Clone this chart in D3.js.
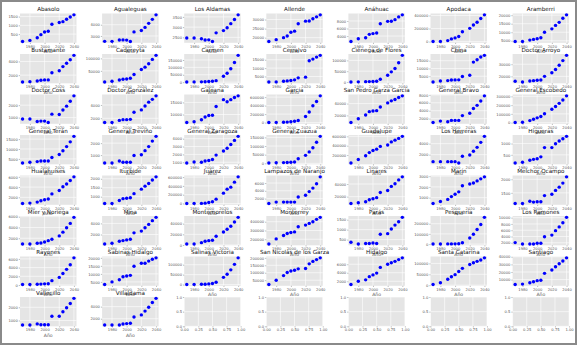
<!DOCTYPE html>
<html>
<head>
<meta charset="utf-8">
<script src="https://cdn.jsdelivr.net/npm/d3@7"></script>
<style>
  body { margin: 0; background: #fff; }
  text { font-family: "DejaVu Sans", sans-serif; }
</style>
</head>
<body>
<div id="chart"></div>
<script>
// Years on the x axis (same for every municipality)
const years = [1970, 1980, 1990, 1995, 2000, 2005, 2010, 2020, 2025, 2030, 2035, 2040];

// Municipalities, in panel order
const municipios = [
  "Abasolo", "Agualeguas", "Los Aldamas", "Allende", "Anáhuac", "Apodaca", "Aramberri",
  "Bustamante", "Cadereyta", "Carmen", "Cerralvo", "Ciénega de Flores", "China", "Doctor Arroyo",
  "Doctor Coss", "Doctor González", "Galeana", "García", "San Pedro Garza García", "General Bravo", "General Escobedo",
  "General Terán", "General Treviño", "General Zaragoza", "General Zuazua", "Guadalupe", "Los Herreras", "Higueras",
  "Hualahuises", "Iturbide", "Juárez", "Lampazos de Naranjo", "Linares", "Marín", "Melchor Ocampo",
  "Mier y Noriega", "Mina", "Montemorelos", "Monterrey", "Parás", "Pesquería", "Los Ramones",
  "Rayones", "Sabinas Hidalgo", "Salinas Victoria", "San Nicolás de los Garza", "Hidalgo", "Santa Catarina", "Santiago",
  "Vallecillo", "Villaldama"
];

// Values per municipality, aligned with `years`
const poblacion = [
  [80, 140, 290, 470, 620, 660, 1060, 1160, 1210, 1350, 1480, 1600],
  [2520, 2520, 2640, 2650, 2630, 2510, 3360, 3480, 3760, 4120, 4480, 4880],
  [2470, 2470, 2430, 2370, 2380, 2300, 2720, 2830, 2970, 3170, 3370, 3600],
  [17900, 18900, 20000, 20900, 23000, 23600, 27700, 29100, 29200, 30400, 31500, 32600],
  [2550, 3270, 3550, 4450, 4640, 4820, 7270, 7910, 7950, 8360, 9090, 9640],
  [2000, 3000, 15600, 41500, 57000, 78000, 150600, 202600, 254500, 296000, 353000, 410000],
  [4600, 4600, 5400, 5800, 6200, 6800, 10000, 12000, 14000, 15800, 18200, 20200],
  [1000, 1050, 1150, 1250, 1300, 1300, 2350, 2650, 3250, 3750, 4250, 4900],
  [5400, 8100, 13500, 16200, 17600, 20300, 35100, 55400, 64900, 78400, 95900, 112200],
  [1200, 1500, 2000, 3000, 4500, 6000, 10000, 39500, 60500, 90700, 132600, 181400],
  [1700, 1750, 2150, 2350, 2550, 2960, 4180, 4590, 14400, 15400, 16600, 17650],
  [0, 500, 1560, 1800, 2000, 3120, 12500, 31250, 46900, 62500, 89000, 123400],
  [1300, 1960, 2180, 2610, 2620, 2650, 4780, 5650, 14100, 15650, 17400, 18460],
  [15950, 15400, 16200, 16500, 16760, 17030, 20000, 22970, 25670, 29180, 32970, 37300],
  [890, 890, 690, 720, 720, 610, 1280, 1250, 1610, 1920, 2310, 2750],
  [1370, 1370, 1680, 1790, 1790, 1840, 2900, 3260, 3840, 4420, 4840, 5370],
  [6710, 7000, 7860, 9000, 9570, 9710, 13290, 16140, 15290, 16140, 17000, 17720],
  [3000, 5000, 8000, 12000, 20000, 30000, 50000, 145000, 250000, 395000, 495000, 630000],
  [8000, 14300, 20600, 26300, 27400, 28000, 34300, 41100, 44600, 46800, 50300, 53100],
  [1030, 1380, 1210, 1550, 1550, 1550, 2760, 3360, 4570, 5350, 6470, 7760],
  [2000, 5000, 23500, 39200, 54900, 70600, 102000, 153000, 184000, 220000, 259000, 306000],
  [2940, 3280, 3620, 3970, 3970, 3970, 5690, 7240, 9140, 11200, 13600, 16400],
  [340, 340, 510, 400, 400, 400, 970, 1030, 1370, 1710, 2170, 2570],
  [910, 1040, 1000, 1170, 1220, 1350, 1910, 2440, 2780, 3260, 3780, 4300],
  [2000, 3000, 4000, 5000, 6000, 8000, 26000, 46000, 66000, 90000, 122000, 156000],
  [30000, 103700, 185000, 252000, 296000, 326000, 385000, 415000, 481000, 518500, 555500, 600000],
  [730, 730, 730, 730, 730, 490, 1700, 1940, 2610, 3330, 4240, 5330],
  [140, 170, 260, 300, 330, 410, 820, 820, 990, 1110, 1210, 1320],
  [800, 870, 1070, 1330, 1530, 1670, 2670, 3330, 4070, 4600, 5270, 6000],
  [620, 620, 790, 890, 910, 940, 1170, 1420, 1590, 1740, 1930, 2110],
  [0, 1000, 2000, 7600, 22700, 37900, 98500, 235000, 326000, 371000, 485000, 606000],
  [750, 1100, 1100, 1100, 1100, 1100, 2410, 2850, 3800, 4700, 5830, 7590],
  [9200, 10270, 11900, 15100, 16760, 18380, 26500, 29700, 36200, 40500, 46500, 51350],
  [460, 650, 840, 1100, 1320, 1540, 2110, 2270, 2370, 2560, 2750, 2940],
  [1110, 1110, 1190, 1160, 1175, 1175, 1400, 1450, 1590, 1710, 1860, 2090],
  [940, 940, 1060, 1130, 1310, 1560, 1810, 2440, 3130, 3940, 4750, 5880],
  [300, 420, 790, 910, 1030, 1150, 2300, 2610, 3210, 3820, 4490, 5090],
  [1880, 1880, 4380, 6880, 8130, 8750, 16250, 24380, 29380, 35000, 43130, 51880],
  [146000, 204000, 242000, 265000, 277000, 284000, 342000, 361500, 381000, 400000, 427000, 450000],
  [370, 280, 300, 300, 330, 300, 770, 800, 1030, 1230, 1400, 1620],
  [1000, 1200, 1500, 1800, 2200, 3000, 13300, 60000, 96700, 143000, 193000, 263000],
  [2070, 1630, 1630, 1630, 1850, 1850, 3910, 4460, 5870, 7070, 8370, 10110],
  [120, 120, 180, 200, 260, 300, 1000, 1750, 2650, 3600, 4650, 6250],
  [3400, 5000, 6360, 8180, 8640, 9090, 14770, 16590, 16590, 17950, 19090, 20000],
  [500, 800, 1700, 1700, 3450, 5170, 12000, 36200, 51700, 74000, 101700, 134500],
  [21400, 50000, 81000, 102000, 112000, 116700, 126000, 128600, 159500, 176000, 188000, 200000],
  [1250, 2000, 2330, 3080, 3500, 3920, 5250, 6000, 6330, 6670, 7080, 7500],
  [3200, 11300, 27400, 38700, 48400, 62900, 77400, 95200, 103200, 109700, 116100, 125800],
  [3640, 4100, 5900, 7270, 8640, 9090, 18200, 22700, 26800, 30900, 34500, 38600],
  [660, 660, 740, 680, 680, 680, 1320, 1320, 1660, 1970, 2290, 2680],
  [970, 970, 970, 1140, 1200, 1260, 2290, 2630, 3260, 3890, 4690, 5370]
];

// Tick labels
const xTicks = [1980, 2000, 2020, 2040];
const emptyXTicks = [0, 0.25, 0.5, 0.75, 1];
const emptyYTicks = [0, 0.5, 1];

// Figure layout (matplotlib-like grid of 8 rows x 7 columns)
const W = 577, H = 345;
const nCols = 7, nRows = 8;
const left0 = 20, colStep = 82.1, plotW = 56.5;
const top0 = 13.5, rowStep = 40.5, plotH = 29.3;

const svg = d3.select("#chart")
  .append("svg")
  .attr("width", W)
  .attr("height", H);

svg.append("rect")
  .attr("width", W)
  .attr("height", H)
  .attr("fill", "#fff");

const yFmt = d3.format("d");

for (let i = 0; i < nCols * nRows; i++) {
  const col = i % nCols, row = Math.floor(i / nCols);
  const g = svg.append("g")
    .attr("transform", `translate(${left0 + col * colStep},${top0 + row * rowStep})`);

  // grey panel
  g.append("rect")
    .attr("width", plotW)
    .attr("height", plotH)
    .attr("fill", "#e5e5e5");

  let x, y, xt, yt, xFmt, yF;
  const hasData = i < municipios.length;

  if (hasData) {
    const vals = poblacion[i];
    const [lo, hi] = d3.extent(vals);
    const pad = (hi - lo) * 0.05;
    x = d3.scaleLinear().domain([1966.5, 2043.5]).range([0, plotW]);
    y = d3.scaleLinear().domain([lo - pad, hi + pad]).range([plotH, 0]);
    xt = xTicks;
    yt = y.ticks(3);
    xFmt = d3.format("d");
    yF = yFmt;
  } else {
    x = d3.scaleLinear().domain([0, 1]).range([0, plotW]);
    y = d3.scaleLinear().domain([0, 1]).range([plotH, 0]);
    xt = emptyXTicks;
    yt = emptyYTicks;
    xFmt = d3.format(".2f");
    yF = d3.format(".1f");
  }

  // white grid
  g.selectAll(".gx").data(xt).join("line")
    .attr("x1", d => x(d)).attr("x2", d => x(d))
    .attr("y1", 0).attr("y2", plotH)
    .attr("stroke", "#fff").attr("stroke-width", 0.6);
  g.selectAll(".gy").data(yt).join("line")
    .attr("class", "gy")
    .attr("x1", 0).attr("x2", plotW)
    .attr("y1", d => y(d)).attr("y2", d => y(d))
    .attr("stroke", "#fff").attr("stroke-width", 0.6);

  // axes
  const ax = g.append("g")
    .attr("transform", `translate(0,${plotH})`)
    .call(d3.axisBottom(x).tickValues(xt).tickFormat(xFmt).tickSize(1.2).tickPadding(1));
  const ay = g.append("g")
    .call(d3.axisLeft(y).tickValues(yt).tickFormat(yF).tickSize(1.2).tickPadding(1));
  [ax, ay].forEach(a => {
    a.select(".domain").remove();
    a.selectAll("line").attr("stroke", "#555").attr("stroke-width", 0.4);
    a.selectAll("text")
      .attr("fill", "#555")
      .style("font-size", "3.7px")
      .style("font-family", "DejaVu Sans, sans-serif");
  });
  ax.selectAll("text").attr("dy", "0.75em");

  if (hasData) {
    // points
    g.selectAll("circle")
      .data(years.map((yr, k) => [yr, poblacion[i][k]]))
      .join("circle")
      .attr("cx", d => x(d[0]))
      .attr("cy", d => y(d[1]))
      .attr("r", 1.7)
      .attr("fill", "#0000ff");

    // x label
    g.append("text")
      .attr("x", plotW / 2)
      .attr("y", plotH + 10.5)
      .attr("text-anchor", "middle")
      .attr("fill", "#555")
      .style("font-size", "4.6px")
      .text("Año");

    // title
    g.append("text")
      .attr("x", plotW / 2)
      .attr("y", -2.2)
      .attr("text-anchor", "middle")
      .attr("fill", "#111")
      .style("font-size", "5.6px")
      .text(municipios[i]);
  }
}

// outer frame
svg.append("rect")
  .attr("x", 1)
  .attr("y", 1)
  .attr("width", W - 2)
  .attr("height", H - 2)
  .attr("fill", "none")
  .attr("stroke", "#8a8a8a")
  .attr("stroke-width", 2);
</script>
</body>
</html>
